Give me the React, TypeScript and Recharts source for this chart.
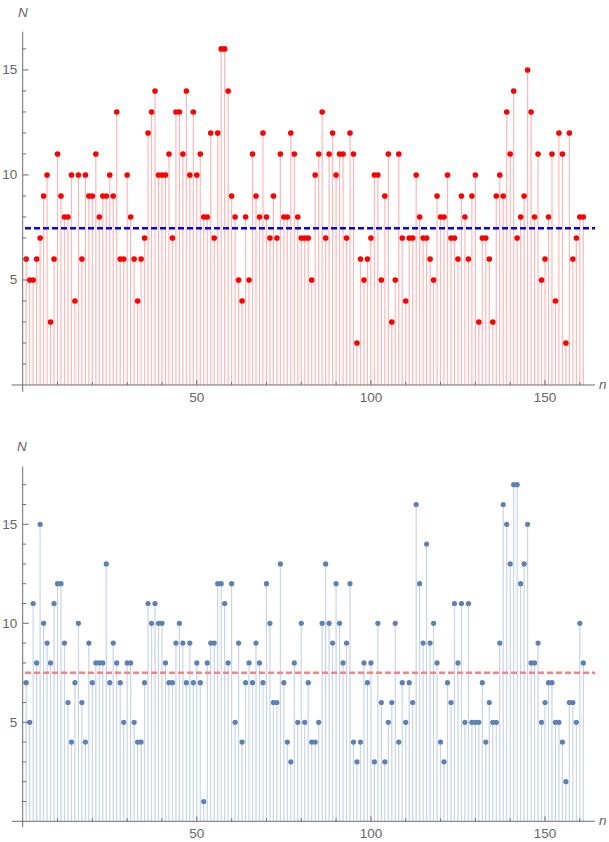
import React from 'react';
import { ComposedChart, Line, XAxis, YAxis, ReferenceLine, ErrorBar } from 'recharts';

// ---- data (counts per index) ----
const TOP_COUNTS = [
  6, 5, 5, 6, 7, 9, 10, 3, 6, 11,
  9, 8, 8, 10, 4, 10, 6, 10, 9, 9,
  11, 8, 9, 9, 10, 9, 13, 6, 6, 10,
  8, 6, 4, 6, 7, 12, 13, 14, 10, 10,
  10, 11, 7, 13, 13, 11, 14, 10, 13, 10,
  11, 8, 8, 12, 7, 12, 16, 16, 14, 9,
  8, 5, 4, 8, 5, 11, 9, 8, 12, 8,
  7, 9, 7, 11, 8, 8, 12, 11, 8, 7,
  7, 7, 5, 10, 11, 13, 7, 11, 12, 10,
  11, 11, 7, 12, 11, 2, 6, 5, 6, 7,
  10, 10, 5, 9, 11, 3, 5, 11, 7, 4,
  7, 7, 10, 8, 7, 7, 6, 5, 9, 8,
  8, 10, 7, 7, 6, 9, 8, 6, 9, 10,
  3, 7, 7, 6, 3, 9, 10, 9, 13, 11,
  14, 7, 8, 9, 15, 13, 8, 11, 5, 6,
  8, 11, 4, 12, 11, 2, 12, 6, 7, 8, 8,
];

const BOTTOM_COUNTS = [
  7, 5, 11, 8, 15, 10, 9, 8, 11, 12,
  12, 9, 6, 4, 7, 10, 6, 4, 9, 7,
  8, 8, 8, 13, 7, 9, 8, 7, 5, 8,
  8, 5, 4, 4, 7, 11, 10, 11, 10, 10,
  8, 7, 7, 9, 10, 9, 7, 9, 7, 8,
  7, 1, 8, 9, 9, 12, 12, 11, 8, 12,
  5, 9, 4, 7, 8, 7, 9, 8, 7, 12,
  10, 6, 6, 13, 7, 4, 3, 8, 5, 10,
  5, 7, 4, 4, 5, 10, 13, 10, 9, 12,
  10, 8, 9, 12, 4, 3, 4, 8, 7, 8,
  3, 10, 6, 3, 5, 6, 10, 4, 7, 5,
  7, 6, 16, 12, 9, 14, 9, 10, 8, 4,
  3, 7, 6, 11, 8, 11, 5, 11, 5, 5,
  5, 7, 4, 6, 5, 5, 9, 16, 15, 13,
  17, 17, 12, 13, 15, 8, 8, 9, 5, 6,
  7, 7, 5, 5, 4, 2, 6, 6, 5, 10, 8,
];

const X_TICKS = [10, 20, 30, 40, 50, 60, 70, 80, 90, 100, 110, 120, 130, 140, 150, 160];
const X_LABELED = [50, 100, 150];
const TOP_Y_TICKS = [1, 2, 3, 4, 5, 6, 7, 8, 9, 10, 11, 12, 13, 14, 15, 16];
const BOTTOM_Y_TICKS = [1, 2, 3, 4, 5, 6, 7, 8, 9, 10, 11, 12, 13, 14, 15, 16, 17];
const Y_LABELED = [5, 10, 15];
const TOP_REF = 7.46;
const BOTTOM_REF = 7.5;
const Y_LABEL = 'N';
const X_LABEL = 'n';

// ---- layout / style ----
const W = 609;
const PANEL_H = 421;
const Y_AXIS_W = 11.7;
const MARGIN_RIGHT = 14;
const PLOT_W = W - Y_AXIS_W - MARGIN_RIGHT;
const X_MIN = -3.16;
const X_MAX = 164.36;
const REF_START = 0.66;
const AXIS_COLOR = '#6e6e6e';
const LABEL_COLOR = '#666666';
const FONT = '"Liberation Sans", Arial, Helvetica, sans-serif';

const yAxisOffset = ((0 - X_MIN) / (X_MAX - X_MIN)) * PLOT_W;

function makeXTick(xAxisOffset: number) {
  return (props: any) => {
    const { x, y, payload } = props;
    const v = payload.value;
    const major = X_LABELED.includes(v);
    const axisY = y - xAxisOffset;
    return (
      <g>
        <line x1={x} x2={x} y1={axisY} y2={axisY - (major ? 5 : 3)} stroke={AXIS_COLOR} strokeWidth={1} />
        {major && (
          <text x={x} y={y + 6} textAnchor="middle" dominantBaseline="central" fill={LABEL_COLOR} fontSize={13.5} fontFamily={FONT}>
            {v}
          </text>
        )}
      </g>
    );
  };
}

function YTick(props: any) {
  const { x, y, payload } = props;
  const v = payload.value;
  const major = Y_LABELED.includes(v);
  const axisX = x + yAxisOffset;
  return (
    <g>
      <line x1={axisX} x2={axisX + (major ? 6 : 3.5)} y1={y} y2={y} stroke={AXIS_COLOR} strokeWidth={1} />
      {major && (
        <text x={axisX - 5.4} y={y} textAnchor="end" dominantBaseline="central" fill={LABEL_COLOR} fontSize={13.5} fontFamily={FONT}>
          {v}
        </text>
      )}
    </g>
  );
}

type PanelProps = {
  counts: number[];
  yTicks: number[];
  yMin: number;
  yMax: number;
  refValue: number;
  marginTop: number;
  xAxisHeight: number;
  stemColor: string;
  dotColor: string;
  refColor: string;
  dotR: number;
};

function Panel(p: PanelProps) {
  const data = p.counts.map((n, i) => ({ i: i + 1, n, err: [n, 0] }));
  const plotH = PANEL_H - p.marginTop - p.xAxisHeight;
  const xAxisOffset = ((0 - p.yMin) / (p.yMax - p.yMin)) * plotH;
  return (
    <ComposedChart
      width={W}
      height={PANEL_H}
      data={data}
      margin={{ top: p.marginTop, right: MARGIN_RIGHT, bottom: 0, left: 0 }}
    >
      <XAxis
        dataKey="i"
        type="number"
        domain={[X_MIN, X_MAX]}
        allowDataOverflow
        ticks={X_TICKS}
        interval={0}
        axisLine={false}
        tickLine={false}
        tickSize={0}
        tickMargin={0}
        height={p.xAxisHeight}
        tick={makeXTick(xAxisOffset)}
      />
      <YAxis
        type="number"
        domain={[p.yMin, p.yMax]}
        allowDataOverflow
        ticks={p.yTicks}
        interval={0}
        axisLine={false}
        tickLine={false}
        tickSize={0}
        tickMargin={0}
        width={Y_AXIS_W}
        tick={YTick}
      />
      <Line
        dataKey="n"
        stroke="none"
        isAnimationActive={false}
        activeDot={false}
        dot={{ r: p.dotR, fill: p.dotColor, stroke: 'none', strokeWidth: 0 }}
      >
        <ErrorBar dataKey="err" width={0} stroke={p.stemColor} strokeWidth={1.2} direction="y" isAnimationActive={false} />
      </Line>
      <ReferenceLine y={0} stroke={AXIS_COLOR} strokeWidth={1} />
      <ReferenceLine x={0} stroke={AXIS_COLOR} strokeWidth={1} />
      <ReferenceLine
        segment={[{ x: REF_START, y: p.refValue }, { x: X_MAX, y: p.refValue }]}
        stroke={p.refColor}
        strokeWidth={2.6}
        strokeDasharray="6 3"
      />
    </ComposedChart>
  );
}

const labelStyle: React.CSSProperties = {
  position: 'absolute',
  fontFamily: FONT,
  fontStyle: 'italic',
  fontSize: 13.5,
  color: LABEL_COLOR,
  lineHeight: '14px',
  whiteSpace: 'nowrap',
};

export default function App() {
  return (
    <div style={{ position: 'absolute', left: 0, top: 0, width: W, height: 842, overflow: 'hidden', background: '#fff' }}>
      <div style={{ position: 'absolute', left: 0, top: 0 }}>
        <Panel
          counts={TOP_COUNTS}
          yTicks={TOP_Y_TICKS}
          yMin={-0.319}
          yMax={16.82}
          refValue={TOP_REF}
          marginTop={31.7}
          xAxisHeight={29.3}
          stemColor="#ffb8b8"
          dotColor="#ff0000"
          refColor="#0000ff"
          dotR={2.8}
        />
      </div>
      <div style={{ position: 'absolute', left: 0, top: PANEL_H }}>
        <Panel
          counts={BOTTOM_COUNTS}
          yTicks={BOTTOM_Y_TICKS}
          yMin={-0.303}
          yMax={17.92}
          refValue={BOTTOM_REF}
          marginTop={45.5}
          xAxisHeight={14.7}
          stemColor="#c8d4e8"
          dotColor="#5e81b5"
          refColor="#ff8080"
          dotR={2.6}
        />
      </div>
      <span style={{ ...labelStyle, left: 18, top: 5.5 }}>{Y_LABEL}</span>
      <span style={{ ...labelStyle, left: 17, top: 439.7 }}>{Y_LABEL}</span>
      <span style={{ ...labelStyle, left: 599, top: 378 }}>{X_LABEL}</span>
      <span style={{ ...labelStyle, left: 599, top: 814.3 }}>{X_LABEL}</span>
    </div>
  );
}
